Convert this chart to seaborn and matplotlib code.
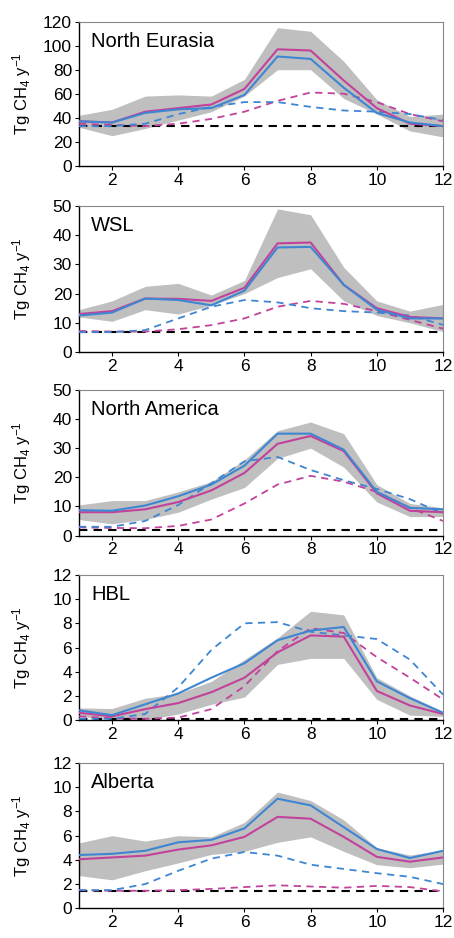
import numpy as np
import pandas as pd
import matplotlib
matplotlib.use("Agg")
import matplotlib.pyplot as plt
import seaborn as sns

months = list(range(1, 13))
regions = ["North Eurasia", "WSL", "North America", "HBL", "Alberta"]
ymax = [120, 50, 50, 12, 12]
ystep = [20, 10, 10, 2, 2]

# solid magenta (inversion), solid blue, band upper/lower, dashed blue, dashed magenta, dashed black (prior)
mag_solid = [
    [37, 36, 45, 48, 51, 64, 97, 96, 71, 48, 35, 33],
    [13, 14, 18.3, 18.2, 17.5, 22, 37.2, 37.5, 23, 15, 12, 11.5],
    [8, 8, 9, 11.5, 15.5, 21.5, 31.5, 34.2, 29, 14.5, 8.5, 8],
    [0.6, 0.3, 0.9, 1.4, 2.3, 3.5, 5.6, 7.0, 6.9, 2.4, 1.2, 0.5],
    [4.05, 4.2, 4.35, 4.85, 5.2, 5.9, 7.55, 7.4, 5.9, 4.25, 3.85, 4.2],
]
blue_solid = [
    [37, 36, 44, 47, 48, 59, 91, 89, 65, 44, 36, 33],
    [12.5, 13.5, 18.3, 17.8, 16, 21, 35.8, 36, 23, 14.5, 11.5, 11.5],
    [8.7, 8.5, 10.3, 13.5, 17.5, 24, 35, 35, 29.5, 15, 9.5, 9],
    [0.8, 0.4, 1.3, 2.2, 3.5, 4.7, 6.6, 7.4, 7.7, 3.2, 1.8, 0.6],
    [4.4, 4.5, 4.75, 5.45, 5.65, 6.6, 9.05, 8.5, 6.7, 4.9, 4.15, 4.75],
]
band_hi = [
    [42, 47, 58, 59, 58, 72, 115, 112, 87, 55, 41, 43],
    [14.5, 17.5, 22.5, 23.5, 19.5, 24.5, 49, 47, 29, 17.5, 14, 16.3],
    [10.5, 12, 12, 15, 18.5, 26, 36, 39, 35, 17.5, 11, 9.5],
    [1.0, 0.95, 1.8, 2.2, 3.2, 5.0, 6.8, 9.0, 8.7, 3.5, 2.0, 0.7],
    [5.4, 6.0, 5.55, 6.0, 5.9, 7.1, 9.6, 8.9, 7.3, 5.0, 4.4, 4.8],
]
band_lo = [
    [32, 25, 31, 38, 45, 58, 80, 80, 56, 43, 29, 24],
    [12, 10.5, 14.5, 13, 16, 20, 25.5, 28.5, 17.5, 12.5, 10, 7],
    [5.5, 4, 5.5, 8, 12.5, 16.5, 26.5, 30, 23.5, 11.5, 6.5, 6.5],
    [0.3, 0.0, 0.0, 0.5, 1.3, 1.9, 4.6, 5.1, 5.1, 1.7, 0.4, 0.3],
    [2.7, 2.35, 3.1, 3.75, 4.45, 4.7, 5.45, 5.9, 4.7, 3.6, 3.35, 3.65],
]
blue_dash = [
    [33, 33, 35, 43, 49, 53, 53, 49, 46, 45, 43, 38],
    [6.8, 6.8, 7.5, 11.5, 15.5, 17.8, 17, 15, 14, 13.5, 12.5, 9.3],
    [3, 3, 5, 10.5, 18, 25.5, 27, 22.5, 19, 16, 12.5, 7.5],
    [0.1, 0.1, 0.5, 2.7, 5.8, 8.0, 8.1, 7.3, 7.0, 6.7, 5.0, 2.1],
    [1.5, 1.5, 2.0, 3.1, 4.1, 4.65, 4.35, 3.6, 3.25, 2.9, 2.6, 2.0],
]
mag_dash = [
    [35, 34, 33, 35, 39, 45, 54, 61, 60, 53, 43, 37],
    [7.2, 7, 7, 7.8, 9.2, 11.5, 15.5, 17.5, 16.5, 14, 11, 8],
    [2.8, 2.6, 2.5, 3.3, 5.5, 11, 17.5, 20.5, 18.5, 15, 9.5, 5],
    [0.3, 0.15, 0.1, 0.2, 0.9, 2.8, 5.7, 7.6, 7.2, 5.2, 3.5, 1.7],
    [1.5, 1.45, 1.45, 1.5, 1.6, 1.75, 1.9, 1.8, 1.7, 1.85, 1.75, 1.4],
]
prior = [33, 7, 2, 0.05, 1.45]

magenta = "#c2429b"
blue = "#3f86d2"
band_col = "#bfbfbf"

sns.set_style("ticks")
plt.rcParams['font.family'] = ['Liberation Sans', 'DejaVu Sans']
plt.rcParams['mathtext.fontset'] = 'custom'
plt.rcParams['mathtext.rm'] = 'Liberation Sans'
plt.rcParams['mathtext.it'] = 'Liberation Sans'
for k in ['text.color', 'axes.labelcolor', 'xtick.color', 'ytick.color']:
    plt.rcParams[k] = 'black'

fig = plt.figure(figsize=(4.54, 9.38), dpi=100)
W, H = 454, 938
tops = [21.7, 206, 390, 575, 763]
bots = [165.7, 352, 535.5, 720, 908.3]
left, right = 79, 443

for i, name in enumerate(regions):
    ax = fig.add_axes([left / W, 1 - bots[i] / H, (right - left) / W, (bots[i] - tops[i]) / H])
    df = pd.DataFrame({
        "month": months * 5,
        "value": mag_solid[i] + blue_solid[i] + blue_dash[i] + mag_dash[i] + [prior[i]] * 12,
        "series": ["ms"] * 12 + ["bs"] * 12 + ["bd"] * 12 + ["md"] * 12 + ["p"] * 12,
    })
    ax.fill_between(months, band_lo[i], band_hi[i], color=band_col, lw=0, zorder=1)
    sns.lineplot(data=df[df.series == "p"], x="month", y="value", color="black",
                 lw=1.5, ax=ax, zorder=2).lines[-1].set_dashes([4, 3])
    sns.lineplot(data=df[df.series == "md"], x="month", y="value", color=magenta,
                 lw=1.3, ax=ax, zorder=3).lines[-1].set_dashes([4, 3])
    sns.lineplot(data=df[df.series == "bd"], x="month", y="value", color=blue,
                 lw=1.3, ax=ax, zorder=3).lines[-1].set_dashes([4, 3])
    sns.lineplot(data=df[df.series == "ms"], x="month", y="value", color=magenta,
                 lw=1.5, ax=ax, zorder=4)
    sns.lineplot(data=df[df.series == "bs"], x="month", y="value", color=blue,
                 lw=1.5, ax=ax, zorder=5)

    ax.set_xlim(1, 12)
    ax.set_ylim(0, ymax[i])
    ax.set_xticks([2, 4, 6, 8, 10, 12])
    ax.set_yticks(np.arange(0, ymax[i] + 0.1, ystep[i]))
    ax.tick_params(labelsize=12.5, length=3, width=0.8, pad=2)
    ax.set_xlabel("")
    ax.set_ylabel("Tg CH$_4$ y$^{-1}$", fontsize=12)
    ax.yaxis.set_label_coords(-0.126, 0.5)
    for s in ["left", "bottom"]:
        ax.spines[s].set_color("black")
        ax.spines[s].set_linewidth(1.0)
    for s in ["top", "right"]:
        ax.spines[s].set_color("#888888")
        ax.spines[s].set_linewidth(0.8)
    ax.text(0.033, 0.865, name, transform=ax.transAxes, fontsize=14.5, va="center", ha="left")

fig.savefig("out.png", dpi=100)
